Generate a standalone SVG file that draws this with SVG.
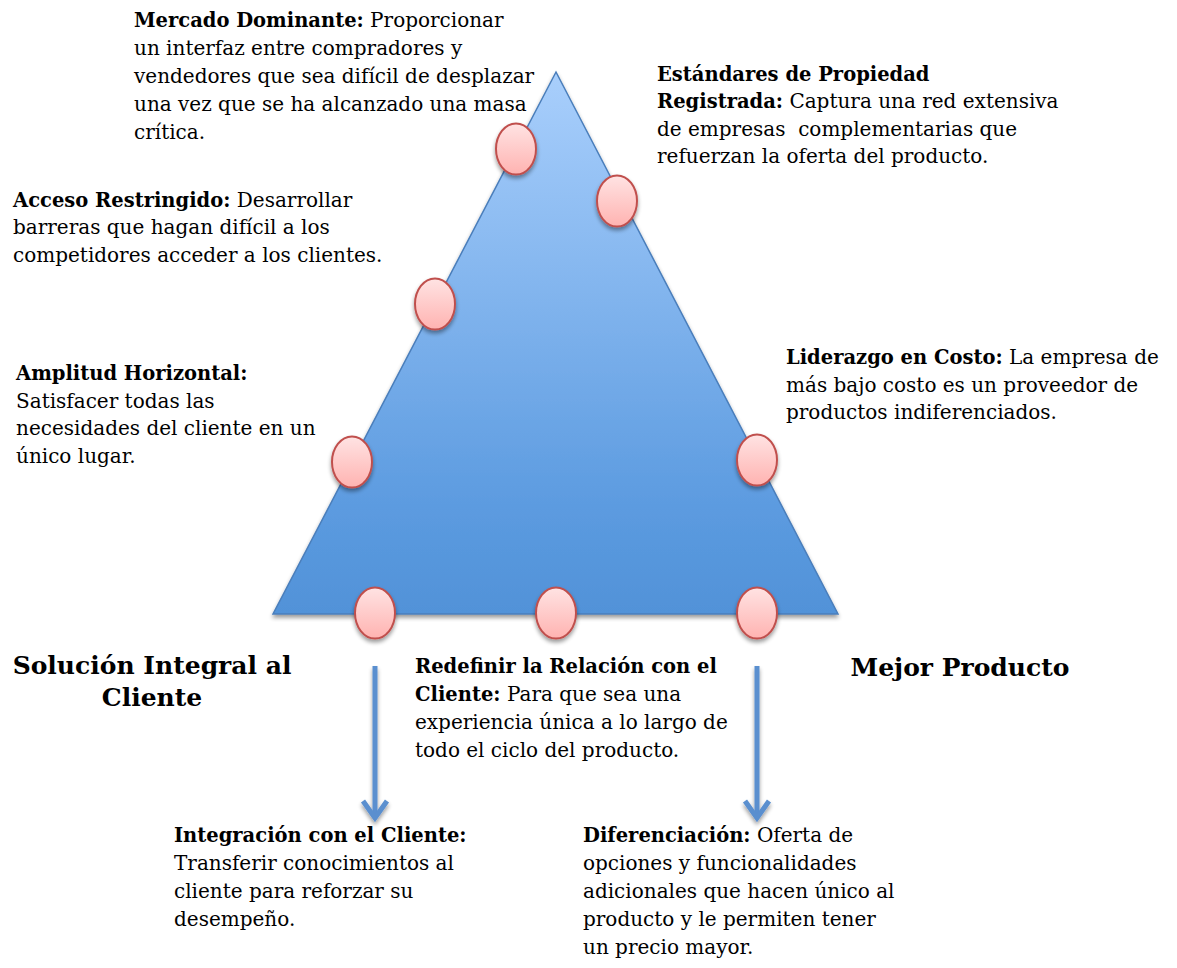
<svg xmlns="http://www.w3.org/2000/svg" width="1177" height="968" viewBox="0 0 1177 968">
  <style>
    text { font-family: "DejaVu Serif", "Liberation Serif", serif; font-size: 20px; fill: #000; }
    .b { font-weight: bold; font-size: 19.5px; }
    .title { font-weight: bold; font-size: 25px; text-anchor: middle; }
    .dot { fill: url(#dotFill); stroke: #c0504d; stroke-width: 2; filter: url(#shadow); }
    .conn { fill: none; stroke: #5a8fcf; stroke-width: 5; }
  </style>
  <defs>
    <linearGradient id="triFill" x1="0" y1="72" x2="0" y2="614" gradientUnits="userSpaceOnUse">
      <stop offset="0" stop-color="#a9cffc"/>
      <stop offset="0.8" stop-color="#5c9be0"/>
      <stop offset="1" stop-color="#5192d8"/>
    </linearGradient>
    <linearGradient id="dotFill" x1="0" y1="0" x2="0" y2="1">
      <stop offset="0" stop-color="#ffe3e3"/>
      <stop offset="1" stop-color="#ffb3b1"/>
    </linearGradient>
    <filter id="shadow" x="-20%" y="-20%" width="140%" height="150%">
      <feGaussianBlur in="SourceAlpha" stdDeviation="2.2"/>
      <feOffset dx="0" dy="3" result="blur"/>
      <feComponentTransfer><feFuncA type="linear" slope="0.4"/></feComponentTransfer>
      <feMerge><feMergeNode/><feMergeNode in="SourceGraphic"/></feMerge>
    </filter>
  </defs>

  <!-- pyramid -->
  <g id="pyramid">
    <polygon points="556,72 838,614 273,614" fill="url(#triFill)" stroke="#4a7ebb" stroke-width="1.5" filter="url(#shadow)"/>
  </g>

  <!-- markers on the pyramid edges -->
  <g id="dot-mercado"><ellipse class="dot" cx="516" cy="149" rx="20" ry="25.5"/></g>
  <g id="dot-estandares"><ellipse class="dot" cx="617" cy="201" rx="20" ry="25.5"/></g>
  <g id="dot-acceso"><ellipse class="dot" cx="435" cy="304" rx="20" ry="25.5"/></g>
  <g id="dot-amplitud"><ellipse class="dot" cx="352" cy="462" rx="20" ry="25.5"/></g>
  <g id="dot-liderazgo"><ellipse class="dot" cx="757" cy="460" rx="20" ry="25.5"/></g>
  <g id="dot-solucion"><ellipse class="dot" cx="375" cy="613" rx="20" ry="25.5"/></g>
  <g id="dot-redefinir"><ellipse class="dot" cx="556" cy="613" rx="20" ry="25.5"/></g>
  <g id="dot-producto"><ellipse class="dot" cx="757" cy="613" rx="20" ry="25.5"/></g>

  <!-- connectors -->
  <g id="connectors" filter="url(#shadow)">
    <line class="conn" x1="375" y1="666" x2="375" y2="815"/>
    <polyline class="conn" points="363,801 375,818 387,801"/>
    <line class="conn" x1="757" y1="666" x2="757" y2="815"/>
    <polyline class="conn" points="745,801 757,818 769,801"/>
  </g>

  <!-- labels -->
  <g id="mercado-dominante">
    <text x="134" y="27"><tspan class="b">Mercado Dominante:</tspan> Proporcionar</text>
    <text x="134" y="55">un interfaz entre compradores y</text>
    <text x="134" y="83">vendedores que sea difícil de desplazar</text>
    <text x="134" y="111">una vez que se ha alcanzado una masa</text>
    <text x="134" y="139">crítica.</text>
  </g>

  <g id="estandares-propiedad">
    <text x="657" y="81" class="b">Estándares de Propiedad</text>
    <text x="657" y="108"><tspan class="b">Registrada:</tspan> Captura una red extensiva</text>
    <text x="657" y="136" xml:space="preserve">de empresas  complementarias que</text>
    <text x="657" y="163">refuerzan la oferta del producto.</text>
  </g>

  <g id="acceso-restringido">
    <text x="13" y="207"><tspan class="b">Acceso Restringido:</tspan> Desarrollar</text>
    <text x="13" y="234">barreras que hagan difícil a los</text>
    <text x="13" y="262">competidores acceder a los clientes.</text>
  </g>

  <g id="amplitud-horizontal">
    <text x="16" y="380" class="b">Amplitud Horizontal:</text>
    <text x="16" y="408">Satisfacer todas las</text>
    <text x="16" y="435">necesidades del cliente en un</text>
    <text x="16" y="463">único lugar.</text>
  </g>

  <g id="liderazgo-costo">
    <text x="786" y="364"><tspan class="b">Liderazgo en Costo:</tspan> La empresa de</text>
    <text x="786" y="392">más bajo costo es un proveedor de</text>
    <text x="786" y="419">productos indiferenciados.</text>
  </g>

  <g id="solucion-integral">
    <text class="title" x="152" y="674">Solución Integral al</text>
    <text class="title" x="152" y="706">Cliente</text>
  </g>

  <g id="mejor-producto">
    <text class="title" x="960" y="676">Mejor Producto</text>
  </g>

  <g id="redefinir-relacion">
    <text x="415" y="673" class="b">Redefinir la Relación con el</text>
    <text x="415" y="701"><tspan class="b">Cliente:</tspan> Para que sea una</text>
    <text x="415" y="729">experiencia única a lo largo de</text>
    <text x="415" y="757">todo el ciclo del producto.</text>
  </g>

  <g id="integracion-cliente">
    <text x="174" y="842" class="b">Integración con el Cliente:</text>
    <text x="174" y="870">Transferir conocimientos al</text>
    <text x="174" y="898">cliente para reforzar su</text>
    <text x="174" y="926">desempeño.</text>
  </g>

  <g id="diferenciacion">
    <text x="583" y="842"><tspan class="b">Diferenciación:</tspan> Oferta de</text>
    <text x="583" y="870">opciones y funcionalidades</text>
    <text x="583" y="898">adicionales que hacen único al</text>
    <text x="583" y="926">producto y le permiten tener</text>
    <text x="583" y="954">un precio mayor.</text>
  </g>
</svg>
